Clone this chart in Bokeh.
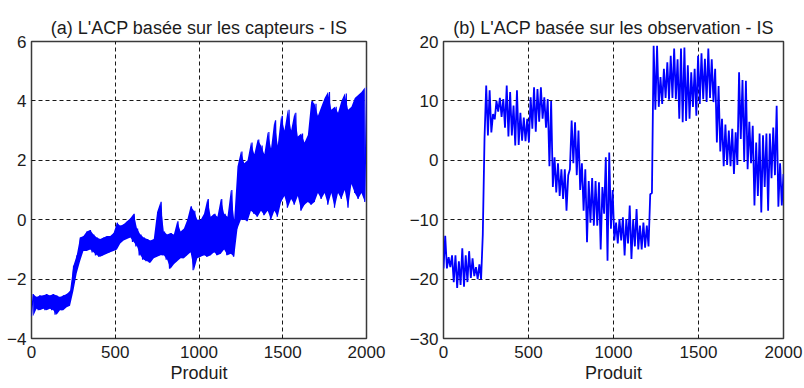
import numpy as np
from bokeh.plotting import figure
from bokeh.layouts import row
from bokeh.models import FixedTicker, Range1d
from bokeh.embed import file_html
from bokeh.resources import INLINE

# Score of the first principal component for 2000 products, summarised
# per block of 20 products as the lowest / highest value in the block.
BLOCK = 20
n_products = 2000

# (a) PCA on sensors
capteurs_lo = [
    -3.25, -3.0, -3.05, -3.0, -3.05, -3.0, -3.05, -3.2, -3.05, -3.05,
    -2.95, -2.9, -2.4, -1.8, -1.4, -1.05, -1.05, -1.0, -1.1, -1.2,
    -1.25, -1.2, -1.15, -1.1, -1.05, -1.0, -0.8, -0.7, -0.65, -0.6,
    -0.75, -0.9, -1.2, -1.35, -1.4, -1.45, -1.3, -1.25, -1.2, -1.2,
    -1.35, -1.65, -1.5, -1.4, -1.3, -1.3, -1.2, -1.1, -1.7, -1.3,
    -1.25, -1.2, -1.25, -1.2, -1.1, -1.2, -1.15, -1.0, -1.2, -1.15,
    -1.25, -0.3, 0.0, 0.0, -0.05, 0.3, 0.2, 0.1, 0.3, 0.15,
    0.3, 0.0, 0.3, 0.1, 0.6, 0.8, 0.4, 0.7, 0.5, 0.8,
    0.3, 0.5, 0.6, 0.5, 0.6, 0.9, 0.7, 0.9, 0.5, 0.9,
    0.4, 0.9, 0.7, 1.0, 0.4, 1.2, 0.9, 0.7, 0.9, 0.6,
]
capteurs_hi = [
    -2.5, -2.6, -2.55, -2.55, -2.5, -2.55, -2.5, -2.55, -2.6, -2.55,
    -2.5, -2.4, -1.55, -1.2, -0.6, -0.55, -0.4, -0.35, -0.5, -0.6,
    -0.65, -0.6, -0.55, -0.55, -0.45, -0.1, -0.2, -0.15, -0.05, 0.05,
    0.2, -0.3, -0.5, -0.6, -0.65, -0.7, -0.65, 0.26, 0.6, -0.4,
    -0.5, -0.45, -0.5, -0.05, -0.4, -0.3, 0.0, 0.45, 0.3, 0.0,
    0.0, 0.2, 0.7, 0.1, 0.2, 0.1, 0.7, 0.2, 0.1, 1.0,
    0.0, 1.8, 2.3, 1.9, 2.0, 2.6, 2.2, 2.7, 2.5, 2.2,
    2.95, 2.4, 3.35, 2.5, 3.5, 3.0, 3.7, 3.0, 3.6, 2.8,
    2.9, 2.6, 2.85, 4.0, 3.9, 3.5, 3.8, 4.1, 4.3, 3.7,
    3.8, 3.6, 4.0, 4.25, 3.7, 3.8, 4.1, 4.2, 4.3, 4.45,
]

# (b) PCA on observations
observ_lo = [
    -18.2, -18.2, -18.0, -20.5, -21.5, -21.0, -21.3, -20.5, -19.8, -19.5,
    -20.0, -20.0, 3.6, 4.2, 4.7, 6.9, 8.2, 7.3, 5.5, 4.0,
    4.2, 2.5, 2.6, 3.3, 3.2, 3.0, 5.3, 4.8, 6.5, 7.0,
    5.5, -1.0, -4.5, -5.4, -6.0, -6.5, -8.5, -1.5, -0.5, -2.5,
    -5.0, -8.5, -13.8, -10.5, -11.0, -11.0, -15.0, -9.0, -16.9, -11.5,
    -13.5, -14.0, -13.5, -16.0, -14.0, -16.6, -14.5, -15.0, -15.0, -14.7,
    -14.5, -5.5, 8.5, 9.0, 9.5, 10.5, 10.2, 10.5, 10.3, 7.0,
    6.4, 6.6, 7.0, 9.0, 7.5, 9.5, 10.3, 9.8, 10.5, 9.8,
    3.0, 1.5, -1.0, -0.8, -1.0, -2.3, -0.8, 3.6, -0.3, -1.5,
    -0.5, -7.6, -6.0, -8.8, -4.5, -8.5, -3.0, -2.5, -7.8, -7.6,
]
observ_hi = [
    -12.7, -16.3, -16.0, -16.0, -17.0, -14.8, -16.0, -15.3, -16.5, -18.0,
    -17.5, -12.5, 12.6, 11.8, 7.8, 10.0, 10.5, 10.3, 12.6, 11.5,
    9.2, 11.8, 8.0, 7.2, 7.0, 10.6, 12.3, 12.0, 12.3, 10.6,
    10.3, 10.0, 0.5, -0.5, -1.5, -1.5, -2.5, 6.7, 6.4, 5.0,
    -0.5, -1.5, -3.5, -3.0, -3.5, -3.7, -4.5, 0.5, 1.3, -5.0,
    -10.5, -9.9, -9.6, -9.9, -7.6, -10.0, -8.2, -11.0, -10.5, -11.0,
    -5.7, 19.3, 19.3, 14.0, 15.4, 16.5, 17.6, 18.8, 17.0, 18.8,
    19.0, 16.0, 14.8, 15.4, 17.6, 18.0, 17.1, 18.8, 17.0, 15.4,
    12.5, 7.0, 6.0, 5.0, 5.3, 4.7, 14.8, 13.5, 13.4, 6.5,
    5.8, 3.0, 4.5, 4.2, 4.5, 4.5, 5.5, 9.2, -0.5, -2.3,
]

x_ticks = [0, 500, 1000, 1500, 2000]
capteurs_ticks = [-4, -2, 0, 2, 4, 6]
observ_ticks = [-30, -20, -10, 0, 10, 20]

FONT = "Liberation Sans"
TEXT = "#1c1c1c"
BLUE = "#0000ff"


def trace(lo, hi):
    # alternate low and high values of every block so the line sweeps
    # the full spread of the scores inside it
    ys = np.column_stack([lo, hi]).ravel()
    xs = np.linspace(0, n_products, ys.size)
    return xs, ys


def panel(title, lo, hi, y_ticks, left, frame_w, right, fill, width):
    p = figure(
        width=left + frame_w + right, height=388,
        frame_width=frame_w, frame_height=297,
        min_border_left=left, min_border_right=right,
        min_border_top=41, min_border_bottom=50,
        x_range=Range1d(0, n_products), y_range=Range1d(y_ticks[0], y_ticks[-1]),
        output_backend="svg", toolbar_location=None, title=title,
    )
    xs, ys = trace(lo, hi)
    if fill:
        # spread of each block, joined between block centres
        centres = np.arange(len(lo)) * BLOCK + BLOCK / 2
        p.varea(x=centres, y1=lo, y2=hi, fill_color=BLUE, fill_alpha=1.0)
    p.line(xs, ys, line_color=BLUE, line_width=width)

    p.title.align = "center"
    p.title.text_font = FONT
    p.title.text_font_size = "18px"
    p.title.text_font_style = "normal"
    p.title.text_color = TEXT
    p.title.standoff = 8

    p.xaxis.ticker = FixedTicker(ticks=x_ticks)
    p.yaxis.ticker = FixedTicker(ticks=y_ticks)
    p.xaxis.axis_label = "Produit"
    p.xaxis.axis_label_text_font = FONT
    p.xaxis.axis_label_text_font_size = "18px"
    p.xaxis.axis_label_text_font_style = "normal"
    p.xaxis.axis_label_text_color = TEXT
    p.xaxis.axis_label_standoff = 2
    for ax in (p.xaxis, p.yaxis):
        ax.major_label_text_font = FONT
        ax.major_label_text_font_size = "17px"
        ax.major_label_text_color = TEXT
        ax.major_tick_in = 0
        ax.major_tick_out = 0
        ax.minor_tick_line_color = None
        ax.axis_line_color = None
    p.xaxis.major_label_standoff = 7
    p.yaxis.major_label_standoff = 5

    for g in (p.xgrid, p.ygrid):
        g.grid_line_color = "#000000"
        g.grid_line_dash = "4 3"
        g.grid_line_width = 1
        g.grid_line_alpha = 0.9

    p.outline_line_color = "#3a3a3a"
    p.outline_line_width = 1.5
    p.background_fill_color = "white"
    p.border_fill_color = "white"
    return p


p1 = panel("(a) L'ACP basée sur les capteurs - IS",
           capteurs_lo, capteurs_hi, capteurs_ticks, 31, 335, 34, True, 1.2)
p2 = panel("(b) L'ACP basée sur les observation - IS",
           observ_lo, observ_hi, observ_ticks, 43, 340, 21, False, 1.8)

p = row(p1, p2)
open("out.html", "w").write(file_html(p, INLINE))
